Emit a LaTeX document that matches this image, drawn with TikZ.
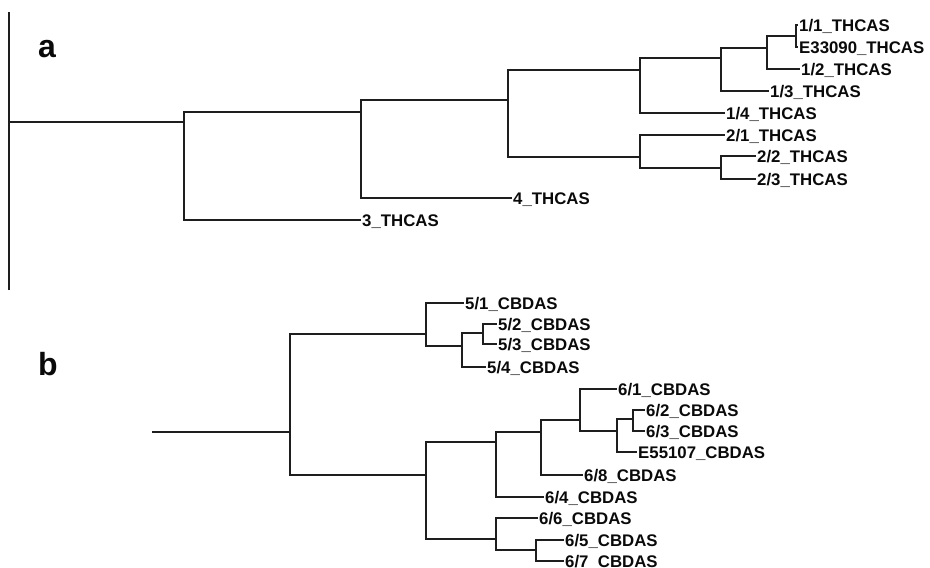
\documentclass[tikz,border=0pt]{standalone}
\usepackage{fontspec}
\setmainfont{Liberation Sans}
\usepackage{tikz}
\usetikzlibrary{positioning,calc}
\definecolor{TRline}{RGB}{30,30,30}
\definecolor{TRtext}{RGB}{10,10,10}
\tikzset{
  br/.style={line width=1.9pt,draw=TRline},
  leaf/.style={anchor=west,inner sep=1pt,text=TRtext,
               font=\bfseries\fontsize{16.8}{18}\selectfont,
               text height=12pt,text depth=0pt},
  panel/.style={anchor=base west,inner sep=0pt,text=TRtext,
                font=\bfseries\fontsize{32}{34}\selectfont}
}
\begin{document}
\begin{tikzpicture}[x={(1pt,0)},y={(0,-1pt)}]
  \useasboundingbox (0,0) rectangle (930,568);
  % panel a
  \coordinate (axtop) at (9,12);
  \coordinate (axbot) at (9,290);
  \coordinate (ra) at (9,122);
  \node[panel] (pa) at (38,57) {a};
  \coordinate (A) at (184,122);
  \coordinate (B) at (361,112);
  \coordinate (C) at (508,100);
  \coordinate (D) at (640,70);
  \coordinate (E) at (721,58);
  \coordinate (F) at (767,48);
  \coordinate (G) at (796,36);
  \coordinate (H) at (640,157);
  \coordinate (I) at (721,168);
  \node[leaf] (t11) at (798,25) {1/1\_THCAS};
  \node[leaf] (te) at (798,47) {E33090\_THCAS};
  \node[leaf] (t12) at (800,69) {1/2\_THCAS};
  \node[leaf] (t13) at (769,91) {1/3\_THCAS};
  \node[leaf] (t14) at (725,113) {1/4\_THCAS};
  \node[leaf] (t21) at (725,135) {2/1\_THCAS};
  \node[leaf] (t22) at (756,156) {2/2\_THCAS};
  \node[leaf] (t23) at (756,179) {2/3\_THCAS};
  \node[leaf] (t4) at (512,198) {4\_THCAS};
  \node[leaf] (t3) at (361,220) {3\_THCAS};
  \draw[br] (axtop) -- (axbot);
  \draw[br] (ra) -- (A);
  \draw[br] (A) |- (B) (A) |- (t3.west);
  \draw[br] (B) |- (C) (B) |- (t4.west);
  \draw[br] (C) |- (D) (C) |- (H);
  \draw[br] (D) |- (E) (D) |- (t14.west);
  \draw[br] (E) |- (F) (E) |- (t13.west);
  \draw[br] (F) |- (G) (F) |- (t12.west);
  \draw[br] (G) |- (t11.west) (G) |- (te.west);
  \draw[br] (H) |- (t21.west) (H) |- (I);
  \draw[br] (I) |- (t22.west) (I) |- (t23.west);
  % panel b
  \node[panel] (pb) at (38,375) {b};
  \coordinate (rb) at (152,432);
  \coordinate (J) at (290,432);
  \coordinate (P) at (426,334);
  \coordinate (Q) at (462,346);
  \coordinate (R) at (483,333);
  \coordinate (S) at (426,475);
  \coordinate (T) at (496,442);
  \coordinate (U) at (541,432);
  \coordinate (V) at (580,420);
  \coordinate (W) at (617,431);
  \coordinate (X) at (633,419);
  \coordinate (Y) at (496,539);
  \coordinate (Z) at (536,550);
  \node[leaf] (c51) at (464,303) {5/1\_CBDAS};
  \node[leaf] (c52) at (497,324) {5/2\_CBDAS};
  \node[leaf] (c53) at (497,344) {5/3\_CBDAS};
  \node[leaf] (c54) at (486,367) {5/4\_CBDAS};
  \node[leaf] (c61) at (617,389) {6/1\_CBDAS};
  \node[leaf] (c62) at (645,410) {6/2\_CBDAS};
  \node[leaf] (c63) at (645,431) {6/3\_CBDAS};
  \node[leaf] (ce) at (637,452) {E55107\_CBDAS};
  \node[leaf] (c68) at (583,475) {6/8\_CBDAS};
  \node[leaf] (c64) at (544,497) {6/4\_CBDAS};
  \node[leaf] (c66) at (538,518) {6/6\_CBDAS};
  \node[leaf] (c65) at (564,540) {6/5\_CBDAS};
  \node[leaf] (c67) at (564,561) {6/7\_CBDAS};
  \draw[br] (rb) -- (J);
  \draw[br] (J) |- (P) (J) |- (S);
  \draw[br] (P) |- (c51.west) (P) |- (Q);
  \draw[br] (Q) |- (R) (Q) |- (c54.west);
  \draw[br] (R) |- (c52.west) (R) |- (c53.west);
  \draw[br] (S) |- (T) (S) |- (Y);
  \draw[br] (T) |- (U) (T) |- (c64.west);
  \draw[br] (U) |- (V) (U) |- (c68.west);
  \draw[br] (V) |- (c61.west) (V) |- (W);
  \draw[br] (W) |- (X) (W) |- (ce.west);
  \draw[br] (X) |- (c62.west) (X) |- (c63.west);
  \draw[br] (Y) |- (c66.west) (Y) |- (Z);
  \draw[br] (Z) |- (c65.west) (Z) |- (c67.west);
\end{tikzpicture}
\end{document}
